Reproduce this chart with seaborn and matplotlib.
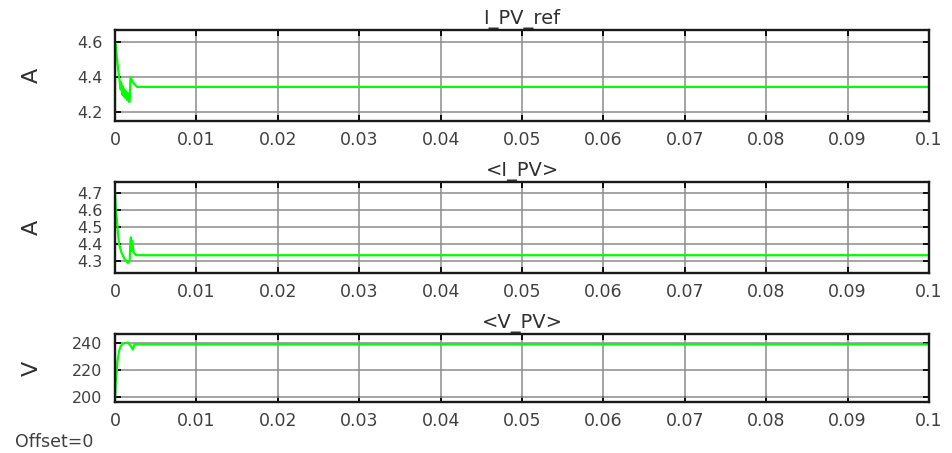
import numpy as np
import pandas as pd
import matplotlib
matplotlib.use("Agg")
import matplotlib.pyplot as plt
import seaborn as sns

# ---- data ----
t_ref = [0.0, 0.0, 0.0001, 0.0002, 0.0004, 0.0006, 0.0007, 0.00075, 0.0009, 0.00095,
         0.0011, 0.00115, 0.0013, 0.00135, 0.0015, 0.00155, 0.0017, 0.0018, 0.0019,
         0.0022, 0.0027, 0.1]
i_ref = [4.20, 4.60, 4.58, 4.53, 4.44, 4.37, 4.33, 4.37, 4.30, 4.35,
         4.29, 4.33, 4.28, 4.32, 4.27, 4.31, 4.26, 4.26, 4.40,
         4.37, 4.345, 4.345]

t_ipv = [0.0, 0.0001, 0.0002, 0.0003, 0.0005, 0.0008, 0.0012, 0.0016, 0.0018, 0.0019,
         0.00195, 0.0020, 0.0021, 0.0023, 0.0026, 0.1]
i_pv = [4.71, 4.60, 4.56, 4.50, 4.40, 4.35, 4.31, 4.29, 4.30, 4.41,
        4.44, 4.36, 4.42, 4.35, 4.335, 4.335]

t_vpv = [0.0, 0.0001, 0.0002, 0.0003, 0.0005, 0.0007, 0.0010, 0.0016, 0.0020, 0.0022,
         0.0024, 0.1]
v_pv = [198.0, 212.0, 218.0, 226.0, 234.0, 237.5, 239.5, 240.0, 237.0, 235.0,
        238.8, 238.8]

x_ticks = [0, 0.01, 0.02, 0.03, 0.04, 0.05, 0.06, 0.07, 0.08, 0.09, 0.1]
x_tick_labels = ["0", "0.01", "0.02", "0.03", "0.04", "0.05", "0.06", "0.07", "0.08", "0.09", "0.1"]

titles = ["I_PV_ref", "<I_PV>", "<V_PV>"]
ylabels = ["A", "A", "V"]
y_ticks = [[4.2, 4.4, 4.6], [4.3, 4.4, 4.5, 4.6, 4.7], [200, 220, 240]]
y_tick_labels = [["4.2", "4.4", "4.6"], ["4.3", "4.4", "4.5", "4.6", "4.7"], ["200", "220", "240"]]
y_lims = [(4.15, 4.67), (4.23, 4.767), (196.6, 246.4)]

series = [(t_ref, i_ref), (t_ipv, i_pv), (t_vpv, v_pv)]

# ---- style ----
sns.set_style("white")
plt.rcParams['font.family'] = ['DejaVu Sans']

fig = plt.figure(figsize=(9.52, 4.53), dpi=100)
W, H = 952, 453
boxes = [(115, 30, 929, 121), (115, 182, 929, 273), (115, 334, 929, 402)]

txt_color = '#404040'
for i, (box, (tt, yy)) in enumerate(zip(boxes, series)):
    x0, y0, x1, y1 = box
    ax = fig.add_axes([x0 / W, 1 - y1 / H, (x1 - x0) / W, (y1 - y0) / H])
    df = pd.DataFrame({"t": tt, "v": yy})
    sns.lineplot(data=df, x="t", y="v", ax=ax, color='#00ff00', linewidth=1.6,
                 sort=False, estimator=None)
    ax.set_xlim(0, 0.1)
    ax.set_ylim(*y_lims[i])
    ax.set_xticks(x_ticks)
    ax.set_xticklabels(x_tick_labels)
    ax.set_yticks(y_ticks[i])
    ax.set_yticklabels(y_tick_labels[i])
    ax.grid(True, color='#8c8c8c', linewidth=1.1)
    ax.set_axisbelow(True)
    ax.tick_params(axis='both', direction='in', length=4, width=1.3, color='black',
                   labelsize=12.5, labelcolor=txt_color, top=True, right=True,
                   bottom=True, left=True)
    ax.tick_params(axis='y', labelsize=11.5, pad=9)
    ax.tick_params(axis='x', pad=7)
    for s in ax.spines.values():
        s.set_color('#1a1a1a')
        s.set_linewidth(1.7)
        s.set_visible(True)
    ax.set_xlabel("")
    ax.set_ylabel(ylabels[i], fontsize=16, color='#303030')
    ax.yaxis.set_label_coords((42 - x0) / (x1 - x0), 0.5)
    ax.set_title(titles[i], fontsize=14, color='#303030', pad=4)

fig.text(15 / W, 1 - 442 / H, "Offset=0", fontsize=12.5, color=txt_color, va='center', ha='left')

fig.savefig("out.png", dpi=100)
